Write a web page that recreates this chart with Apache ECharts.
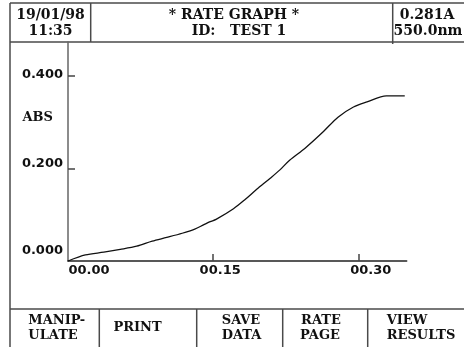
<!DOCTYPE html>
<html>
<head>
<meta charset="utf-8">
<script src="https://cdn.jsdelivr.net/npm/echarts@6/dist/echarts.min.js"></script>
<style>
  html, body { margin: 0; padding: 0; background: #fff; }
  #chart { width: 464px; height: 347px; }
</style>
</head>
<body>
<div id="chart"></div>
<script>
// Elapsed time (min) and absorbance readings of the rate run
const timeMin = [0.000, 0.018, 0.037, 0.054, 0.071, 0.087, 0.102, 0.118, 0.131, 0.140,
                 0.147, 0.153, 0.171, 0.183, 0.195, 0.209, 0.219, 0.229, 0.245, 0.264,
                 0.279, 0.295, 0.309, 0.329, 0.348];
const absorb  = [0.000, 0.013, 0.019, 0.025, 0.032, 0.043, 0.051, 0.060, 0.069, 0.078,
                 0.085, 0.090, 0.113, 0.133, 0.155, 0.179, 0.197, 0.218, 0.244, 0.280,
                 0.311, 0.333, 0.344, 0.357, 0.357];

// Axis ticks and their printed labels
const yTicks = [0, 0.2, 0.4];
const yTickLabels = ['0.000', '0.200', '0.400'];
const xTicks = [0, 0.15, 0.30];
const xTickLabels = ['00.00', '00.15', '00.30'];

// Header and soft-key texts
const headerLeft = ['19/01/98', '11:35'];
const headerMid = ['* RATE GRAPH *', 'ID:   TEST 1'];
const headerRight = ['0.281A', '550.0nm'];
const yName = 'ABS';

const serif = '"DejaVu Serif", serif';
const sans = '"DejaVu Sans", sans-serif';
const frame = { stroke: '#4a4a4a', lineWidth: 1.5 };

function hLine(x1, x2, y) {
  return { type: 'line', shape: { x1: x1, y1: y, x2: x2, y2: y }, style: frame, silent: true };
}
function vLine(x, y1, y2) {
  return { type: 'line', shape: { x1: x, y1: y1, x2: x, y2: y2 }, style: frame, silent: true };
}
function txt(x, y, s, align, size) {
  return {
    type: 'text', x: x, y: y, silent: true,
    style: { text: s, font: 'bold ' + (size || 14) + 'px ' + serif, fill: '#111',
             align: align || 'center', verticalAlign: 'middle' }
  };
}

const points = timeMin.map((t, i) => [t, absorb[i]]);

const chart = echarts.init(document.getElementById('chart'), null, { renderer: 'canvas' });

chart.setOption({
  animation: false,
  backgroundColor: '#fff',
  grid: { left: 68, right: 57.3, top: 42, bottom: 86 },
  xAxis: {
    type: 'value',
    min: 0, max: 0.35,
    axisLine: { show: true, lineStyle: { color: '#222', width: 1.5 } },
    axisTick: { show: true, inside: true, length: 7, customValues: xTicks.slice(1),
                lineStyle: { color: '#444', width: 1.5 } },
    splitLine: { show: false },
    axisLabel: {
      customValues: xTicks,
      margin: 3,
      color: '#111',
      fontFamily: sans, fontWeight: 'bold', fontSize: 13,
      formatter: function (v) {
        const i = xTicks.findIndex(t => Math.abs(t - v) < 1e-9);
        return '{l' + i + '|' + xTickLabels[i] + '}';
      },
      rich: {
        l0: { padding: [0, 0, 0, 42], fontFamily: sans, fontWeight: 'bold', fontSize: 13, color: '#111' },
        l1: { padding: [0, 0, 0, 14], fontFamily: sans, fontWeight: 'bold', fontSize: 13, color: '#111' },
        l2: { padding: [0, 0, 0, 25], fontFamily: sans, fontWeight: 'bold', fontSize: 13, color: '#111' }
      }
    }
  },
  yAxis: {
    type: 'value',
    min: 0, max: 0.4735,
    axisLine: { show: true, lineStyle: { color: '#666', width: 1.5 } },
    axisTick: { show: true, inside: true, length: 7, customValues: yTicks.slice(1),
                lineStyle: { color: '#444', width: 1.5 } },
    splitLine: { show: false },
    axisLabel: {
      customValues: yTicks,
      margin: 5,
      color: '#111',
      fontFamily: sans, fontWeight: 'bold', fontSize: 13,
      formatter: function (v) {
        const i = yTicks.findIndex(t => Math.abs(t - v) < 1e-9);
        return '{l' + i + '|' + yTickLabels[i] + '}';
      },
      rich: {
        l0: { padding: [0, 0, 20, 0], fontFamily: sans, fontWeight: 'bold', fontSize: 13, color: '#111' },
        l1: { padding: [0, 0, 10, 0], fontFamily: sans, fontWeight: 'bold', fontSize: 13, color: '#111' },
        l2: { padding: [0, 0, 2, 0], fontFamily: sans, fontWeight: 'bold', fontSize: 13, color: '#111' }
      }
    }
  },
  series: [{
    type: 'line',
    data: points,
    showSymbol: false,
    smooth: 0.3,
    lineStyle: { color: '#111', width: 1.3 },
    z: 5
  }],
  graphic: [
    // outer frame and header box
    hLine(10, 464, 3),
    hLine(10, 464, 42),
    vLine(10, 3, 347),
    vLine(90.7, 3, 42),
    vLine(392.7, 3, 44),
    // soft-key row
    hLine(10, 464, 309),
    vLine(99.3, 309, 347),
    vLine(196.7, 309, 347),
    vLine(282.7, 309, 347),
    vLine(367.7, 309, 347),
    // header texts
    txt(50.5, 15, headerLeft[0]),
    txt(50.5, 31.5, headerLeft[1]),
    txt(234, 15, headerMid[0]),
    txt(239, 31.5, headerMid[1]),
    txt(427, 15, headerRight[0]),
    txt(428, 31.5, headerRight[1]),
    // axis name
    txt(22.5, 117.5, yName, 'left', 13),
    // soft keys
    txt(28.3, 321, 'MANIP-', 'left', 13),
    txt(28.3, 336, 'ULATE', 'left', 13),
    txt(137.5, 327.5, 'PRINT', 'center', 13),
    txt(241, 321, 'SAVE', 'center', 13),
    txt(241.5, 336, 'DATA', 'center', 13),
    txt(321, 321, 'RATE', 'center', 13),
    txt(320, 336, 'PAGE', 'center', 13),
    txt(386.7, 321, 'VIEW', 'left', 13),
    txt(386.7, 336, 'RESULTS', 'left', 13)
  ]
});
</script>
</body>
</html>
